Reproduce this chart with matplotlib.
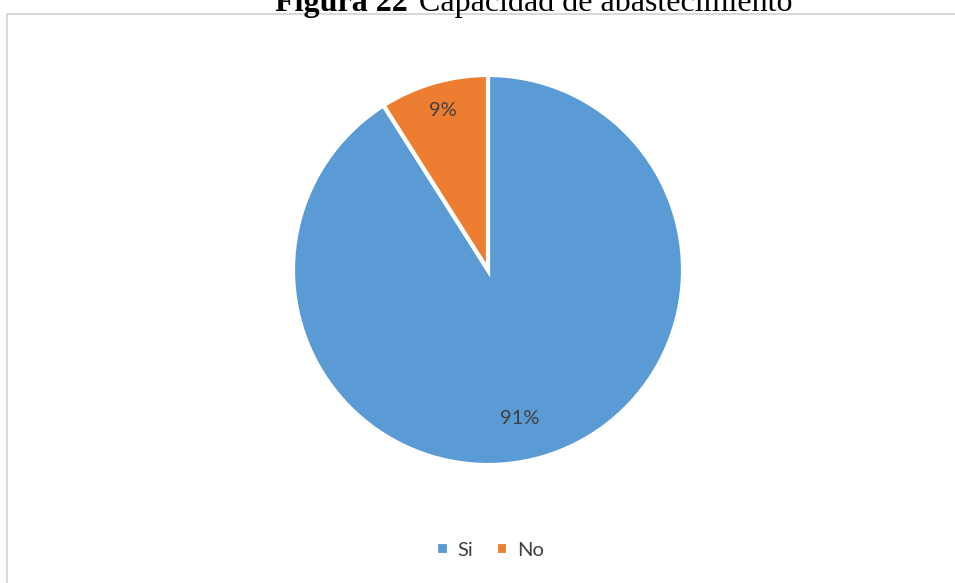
import matplotlib
matplotlib.use("Agg")
import matplotlib.pyplot as plt
from matplotlib.patches import Rectangle

# datos
labels = ["Si", "No"]
values = [91, 9]
colors = ["#5B9BD5", "#ED7D31"]

fig = plt.figure(figsize=(9.55, 5.83), dpi=100)

# marco del grafico
fig.patches.append(Rectangle((7 / 955, -0.1), 1.1, 1 - 14 / 583 + 0.1,
                             transform=fig.transFigure, fill=False,
                             edgecolor="#d9d9d9", linewidth=1.5))

ax = fig.add_axes([(488 - 195) / 955, (583 - 465) / 583, 390 / 955, 390 / 583])
wedges, texts, autotexts = ax.pie(
    values, colors=colors, startangle=90, counterclock=False,
    autopct="%1.0f%%", pctdistance=0.8, radius=1,
    wedgeprops={"edgecolor": "white", "linewidth": 3},
    textprops={"fontsize": 14.5, "color": "#404040", "family": "Lato"},
)
# posiciones de etiquetas como en Excel
autotexts[0].set_position((0.16, -0.76))
autotexts[1].set_position((-0.23, 0.82))
ax.set_xlim(-1, 1)
ax.set_ylim(-1, 1)
ax.set_aspect("equal")
ax.axis("off")

fig.legend(wedges, labels, loc="center", bbox_to_anchor=(490 / 955, 1 - 550 / 583),
           ncol=2, frameon=False, handlelength=0.6, handleheight=0.6,
           columnspacing=1.1, handletextpad=0.45,
           prop={"family": "Lato", "size": 14.5}, labelcolor="#404040")

# titulo
ty = 1 - 11.5 / 583
fig.text(408 / 955, ty, "Figura 22", ha="right", va="baseline",
         fontsize=23, fontweight="bold", family="Liberation Serif")
fig.text(419 / 955, ty, "Capacidad de abastecimiento", ha="left", va="baseline",
         fontsize=23, family="Liberation Serif")

plt.savefig("out.png", dpi=100)
